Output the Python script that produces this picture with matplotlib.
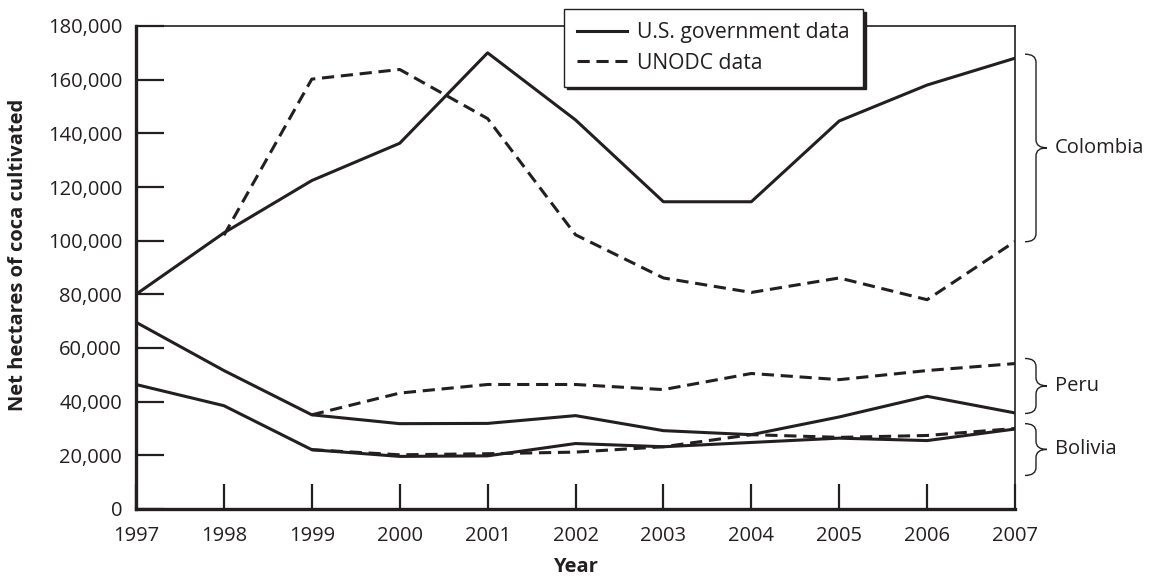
import numpy as np
import matplotlib
matplotlib.use("Agg")
import matplotlib.pyplot as plt
from matplotlib.path import Path
from matplotlib.patches import PathPatch
import matplotlib.transforms as mtransforms
from matplotlib.ticker import StrMethodFormatter

plt.rcParams['font.family'] = ['Open Sans', 'DejaVu Sans']

# ---------------- data (hectares)
years = [1997, 1998, 1999, 2000, 2001, 2002, 2003, 2004, 2005, 2006, 2007]
nan = np.nan
colombia_us = [80000, 102900, 122400, 136300, 170000, 145000, 114500, 114500, 144600, 158000, 168000]
colombia_un = [nan, 102000, 160200, 163800, 145500, 102200, 86100, 80700, 86100, 78000, 99700]
peru_us = [69600, 51600, 35100, 31800, 31900, 34800, 29200, 27700, 34300, 42000, 35800]
peru_un = [nan, nan, 35100, 43200, 46400, 46400, 44500, 50500, 48200, 51600, 54200]
bolivia_us = [46400, 38500, 22100, 19600, 19800, 24400, 23200, 24800, 26400, 25500, 29800]
bolivia_un = [nan, nan, 22100, 20200, 20600, 21200, 23200, 27700, 26700, 27400, 30000]

# brace ranges on the right (top, bottom, tip) and names
brace_names = ["Colombia", "Peru", "Bolivia"]
brace_top = [169500, 56100, 31800]
brace_bot = [99600, 35600, 12500]
brace_tip = [134600, 45900, 22200]

fig = plt.figure(figsize=(11.54, 5.79), dpi=100)
ax = fig.add_axes([136/1154, 1-509/579, (1015-136)/1154, (509-26)/579])

lw = 2.2
dash = (4.0, 2.2)
ink = '#231f20'
ax.plot(years, colombia_us, color=ink, lw=lw, label='U.S. government data')
l2, = ax.plot(years, colombia_un, color=ink, lw=lw, ls='--', label='UNODC data')
l2.set_dashes(dash)
ax.plot(years, peru_us, color=ink, lw=lw)
l, = ax.plot(years, peru_un, color=ink, lw=lw, ls='--')
l.set_dashes(dash)
ax.plot(years, bolivia_us, color=ink, lw=lw)
l, = ax.plot(years, bolivia_un, color=ink, lw=lw, ls='--')
l.set_dashes(dash)

ax.set_xlim(1997, 2007)
ax.set_ylim(0, 180000)
ax.set_xticks(years)
ax.set_yticks(np.arange(0, 180001, 20000))
ax.yaxis.set_major_formatter(StrMethodFormatter('{x:,.0f}'))
ax.tick_params(axis='y', direction='in', length=20, width=1.6, labelsize=14.5, pad=10, color=ink, labelcolor=ink)
ax.tick_params(axis='x', direction='in', length=18, width=1.6, labelsize=14.5, pad=12, color=ink, labelcolor=ink)
for s in ['left', 'bottom']:
    ax.spines[s].set_linewidth(2.4)
for s in ['top', 'right']:
    ax.spines[s].set_linewidth(1.2)
for s in ax.spines.values():
    s.set_color(ink)

ax.set_xlabel('Year', fontsize=14.5, fontweight='bold', labelpad=8, color=ink)
fig.text(18/1154, 1-255/579, 'Net hectares of coca cultivated', rotation=90,
         fontsize=14.5, fontweight='bold', ha='center', va='center', color=ink)

leg = ax.legend(loc='upper left', bbox_to_anchor=(564/1154, 1-9/579),
                bbox_transform=fig.transFigure, fontsize=15.2, frameon=True,
                fancybox=False, edgecolor=ink, borderaxespad=0,
                handlelength=2.35, handletextpad=0.5, labelspacing=0.45,
                borderpad=0.62, shadow={'color': ink, 'alpha': 1})
leg.get_frame().set_linewidth(1.0)
for t in leg.get_texts():
    t.set_color(ink)

# ---------------- braces on the right
trans = mtransforms.blended_transform_factory(ax.transAxes, ax.transData)
px = 1/879.0
xa, xb, xc = 1 + 10*px, 1 + 21*px, 1 + 32*px
r = 3000
for name, yt, yb, ym in zip(brace_names, brace_top, brace_bot, brace_tip):
    verts = [(xa, yt), (xb, yt), (xb, yt - r),
             (xb, ym + r), (xb, ym), (xc, ym),
             (xb, ym), (xb, ym - r),
             (xb, yb + r), (xb, yb), (xa, yb)]
    codes = [Path.MOVETO, Path.CURVE3, Path.CURVE3,
             Path.LINETO, Path.CURVE3, Path.CURVE3,
             Path.CURVE3, Path.CURVE3,
             Path.LINETO, Path.CURVE3, Path.CURVE3]
    ax.add_patch(PathPatch(Path(verts, codes), transform=trans, fill=False,
                           lw=1.0, color=ink, clip_on=False))
    ax.text(1 + 40*px, ym, name, transform=trans, fontsize=14.5, ha='left', va='center', color=ink)

fig.savefig('out.png', dpi=100)
